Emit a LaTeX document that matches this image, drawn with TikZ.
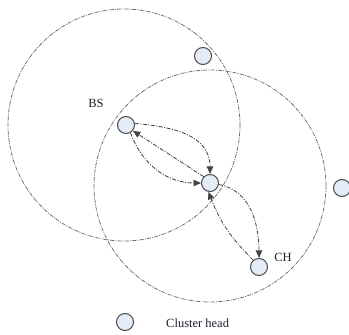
\documentclass[tikz,border=0pt]{standalone}
\usepackage{fontspec}
\setmainfont{Liberation Serif}
\usetikzlibrary{arrows.meta}
\definecolor{nodefill}{HTML}{E4ECF8}
\definecolor{nodeline}{HTML}{4A4A4A}
\definecolor{linkgray}{HTML}{454545}
\definecolor{rangegray}{HTML}{6A6A6A}
\definecolor{txt}{HTML}{1E1E32}
\begin{document}
\begin{tikzpicture}[x=1pt,y=1pt,
  sensor/.style={circle,draw=nodeline,fill=nodefill,line width=1pt,minimum size=17pt,inner sep=0pt},
  radiorange/.style={circle,minimum size=232pt,inner sep=0pt,draw=rangegray,line width=0.75pt,dash pattern=on 4pt off 1.2pt on 1pt off 1.2pt},
  link/.style={draw=linkgray,line width=0.85pt,dash pattern=on 4pt off 1.5pt on 1pt off 1.5pt,-{Triangle[length=7.5pt,width=6.5pt]}},
  lbl/.style={text=txt,font=\fontsize{12.5}{14}\selectfont,inner sep=0pt}]
\useasboundingbox (0,0) rectangle (349,335);
% ranges
\node[radiorange] (r1) at (124,210) {};
\node[radiorange] (r2) at (210,149) {};
% sensors
\node[sensor] (T) at (203,279) {};
\node[sensor] (B) at (126,210) {};
\node[sensor] (M) at (210,152) {};
\node[sensor] (C) at (259,68) {};
\node[sensor] (R) at (342,147) {};
\node[sensor] (L) at (125,13) {};
% labels
\node[lbl] (bsl) at (96,232) {BS};
\node[lbl] (chl) at (283,78) {CH};
\node[lbl,anchor=west] (legt) at (166,12) {Cluster head};
% links
\draw[link] (B.-60) to[out=-70,in=180] (M.west);
\draw[link] (B.10) to[out=-5,in=90,looseness=1.1] (M.north);
\draw[link] (M.135) -- (B.-40);
\draw[link] (M.-10) to[out=-10,in=90] (C.north);
\draw[link] (C.130) to[bend left=12] (M.-100);
\end{tikzpicture}
\end{document}
